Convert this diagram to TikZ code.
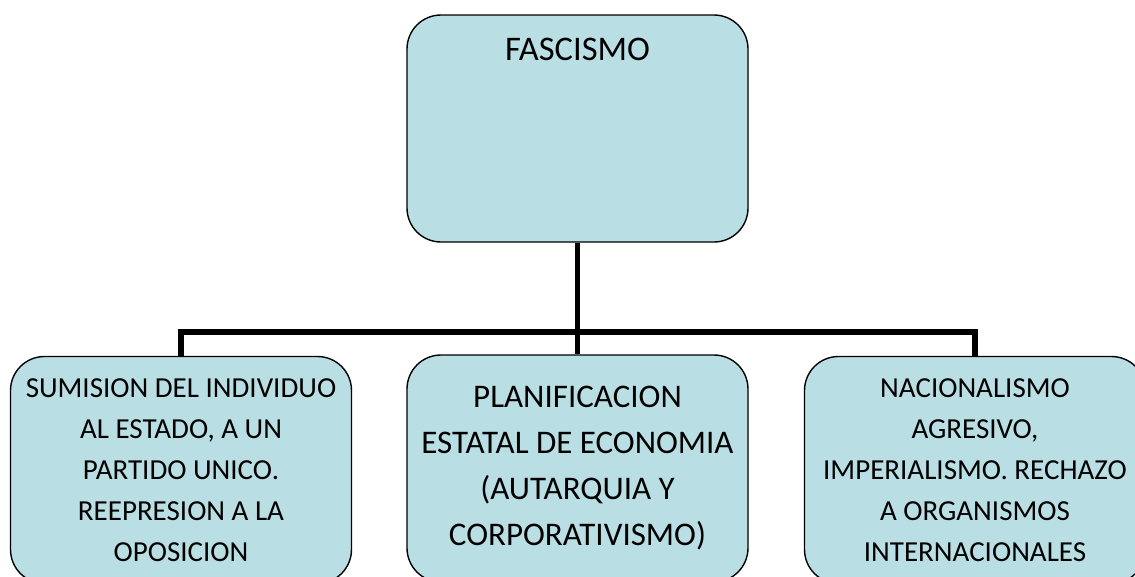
\documentclass[tikz,border=0pt]{standalone}
\usepackage{fontspec}
\setmainfont{Carlito}
\usepackage{xcolor}
\usepackage{tikz}
\usetikzlibrary{positioning, calc}
\definecolor{boxaqua}{HTML}{B9DFE4}

\tikzset{
  ideabox/.style={draw=black, line width=1.4pt, fill=boxaqua, rounded corners=34pt,
    minimum width=341pt, minimum height=227pt, inner sep=0pt, align=center},
  branch/.style={draw=black, line width=5.5pt}
}

\begin{document}
\begin{tikzpicture}[x=1pt, y=-1pt]
  \clip (0,0) rectangle (1135,576);
  \fill[white] (0,0) rectangle (1135,576);

  % Main concept
  \node[ideabox, text height=45pt, text depth=182pt, font=\fontsize{34.5}{34}\selectfont]
    (fascismo) at (577.5,128.5) {FASCISMO};

  % Three characteristics
  \node[ideabox, font=\fontsize{29}{41}\selectfont] (sumision) at (181,470)
    {SUMISION DEL INDIVIDUO\\AL ESTADO, A UN\\PARTIDO UNICO.\\REEPRESION A LA\\OPOSICION};
  \node[ideabox, font=\fontsize{33}{46}\selectfont] (planif) at (577.5,468.5)
    {PLANIFICACION\\ESTATAL DE ECONOMIA\\(AUTARQUIA Y\\CORPORATIVISMO)};
  \node[ideabox, font=\fontsize{29}{41}\selectfont] (nacional) at (975,470)
    {NACIONALISMO\\AGRESIVO,\\IMPERIALISMO. RECHAZO\\A ORGANISMOS\\INTERNACIONALES};

  % Connectors
  \coordinate (bus) at (577.5,332);
  \draw[branch] (fascismo.south) -- (planif.north);
  \draw[branch] (sumision.north) |- (bus) -| (nacional.north);
\end{tikzpicture}
\end{document}
